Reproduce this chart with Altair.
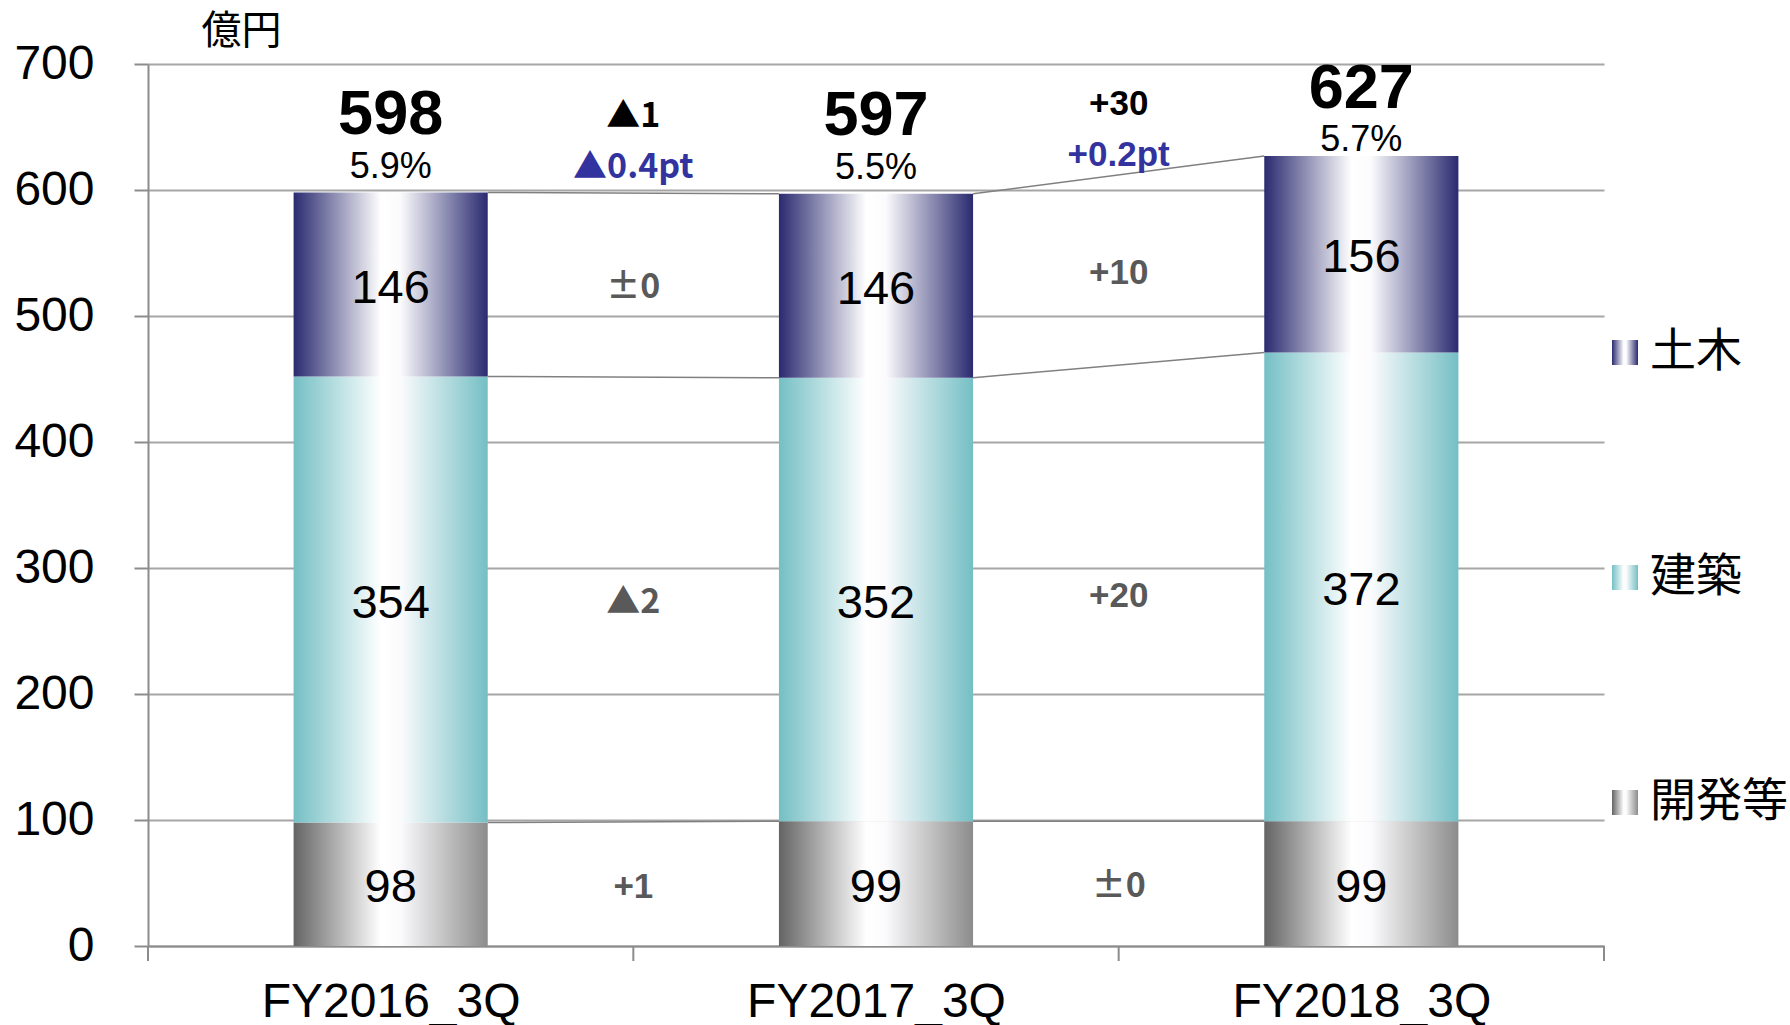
import altair as alt
import pandas as pd

# ---------------- data ----------------
categories = ["FY2016_3Q", "FY2017_3Q", "FY2018_3Q"]
series_names = ["開発等", "建築", "土木"]          # bottom -> top
dev_values = [98, 99, 99]
arch_values = [354, 352, 372]
civil_values = [146, 146, 156]
totals = [598, 597, 627]
margins = ["5.9%", "5.5%", "5.7%"]

dev_diff = ["+1", "±0"]
arch_diff = ["▲2", "+20"]
civil_diff = ["±0", "+10"]
total_diff = ["▲1", "+30"]
margin_diff = ["▲0.4pt", "+0.2pt"]

# ---------------- styles ----------------
NUM_FONT = "Liberation Sans"
JP_FONT = "Noto Sans CJK JP"
W, H = 1456, 882
HALF = 0.2  # half bar width in category units

def grad(dark, right=None):
    right = right or dark
    return alt.Gradient(
        gradient="linear", x1=0, x2=1, y1=0, y2=0,
        stops=[alt.GradientStop(color=dark, offset=0),
               alt.GradientStop(color="#ffffff", offset=0.45),
               alt.GradientStop(color="#fbfbfd", offset=0.55),
               alt.GradientStop(color=right, offset=1)])

fills = {
    "開発等": grad("#646464", "#8c8c8c"),
    "建築": grad("#74bfc4"),
    "土木": grad("#2a2a70"),
}

# ---------------- tables ----------------
series_values = {"開発等": dev_values, "建築": arch_values, "土木": civil_values}
series_diffs = {"開発等": dev_diff, "建築": arch_diff, "土木": civil_diff}

seg_rows = []
tops = {}
mids = {}
for i, cat in enumerate(categories):
    base = 0
    for s in series_names:
        v = series_values[s][i]
        seg_rows.append(dict(cat=cat, s=s, x0=i + 0.5 - HALF, x1=i + 0.5 + HALF,
                             xc=i + 0.5, y0=base, y1=base + v,
                             mid=base + v / 2, label=str(v)))
        tops.setdefault(s, []).append(base + v)
        mids.setdefault(s, []).append(base + v / 2)
        base += v
seg = pd.DataFrame(seg_rows)

conn_rows = []
for s in series_names:
    for i in range(len(categories) - 1):
        conn_rows.append(dict(x=i + 0.5 + HALF, x2=i + 1.5 - HALF,
                              y=tops[s][i], y2=tops[s][i + 1]))
conn = pd.DataFrame(conn_rows)

big_y = [min(t + 63, 682) for t in totals]
pct_y = [min(t + 22, 641) for t in totals]
tot = pd.DataFrame(dict(xc=[i + 0.5 for i in range(len(categories))],
                        total=[str(t) for t in totals], margin=margins,
                        by=big_y, py=pct_y))

diff_rows = []
for s in series_names:
    for i in range(len(categories) - 1):
        diff_rows.append(dict(x=i + 1, y=(mids[s][i] + mids[s][i + 1]) / 2,
                              text=series_diffs[s][i], col="#595959"))
for i in range(len(categories) - 1):
    diff_rows.append(dict(x=i + 1, y=(big_y[i] + big_y[i + 1]) / 2,
                          text=total_diff[i], col="#000000"))
    diff_rows.append(dict(x=i + 1, y=(pct_y[i] + pct_y[i + 1]) / 2,
                          text=margin_diff[i], col="#3333a0"))
diff = pd.DataFrame(diff_rows)

ticks = pd.DataFrame(dict(pos=list(range(len(categories) + 1))))

# ---------------- scales / axes ----------------
xs = alt.Scale(domain=[0, len(categories)], nice=False, zero=False)
ys = alt.Scale(domain=[0, 700], nice=False)

label_list = "[" + ",".join("'%s'" % c for c in categories) + "]"
x_axis = alt.Axis(values=[i + 0.5 for i in range(len(categories))],
                  labelExpr=label_list + "[floor(datum.value)]",
                  ticks=False, grid=False, domainColor="#8c8c8c", domainWidth=2,
                  labelFont=NUM_FONT, labelFontSize=48, labelColor="#000000",
                  labelPadding=32, labelLimit=0, title=None)
y_axis = alt.Axis(values=list(range(0, 701, 100)), grid=True,
                  gridColor="#a6a6a6", gridWidth=2,
                  domainColor="#8c8c8c", domainWidth=2,
                  tickColor="#8c8c8c", tickWidth=2, tickSize=14,
                  labelFont=NUM_FONT, labelFontSize=48, labelColor="#000000",
                  labelPadding=40, title="億円", titleAngle=0, titleAlign="left",
                  titleBaseline="middle", titleX=53, titleY=-33,
                  titleFont=JP_FONT, titleFontSize=40, titleFontWeight="normal",
                  titleColor="#000000")

def X(f):
    return alt.X(f, type="quantitative", scale=xs, axis=x_axis)

def Y(f):
    return alt.Y(f, type="quantitative", scale=ys, axis=y_axis)

layers = []

# connectors
layers.append(alt.Chart(conn).mark_rule(color="#808080", strokeWidth=1.5).encode(
    x=X("x"), x2="x2", y=Y("y"), y2="y2"))

# bars
for s in series_names:
    layers.append(alt.Chart(seg).transform_filter(alt.datum.s == s)
                  .mark_rect(color=fills[s]).encode(
                      x=X("x0"), x2="x1", y=Y("y0"), y2="y1"))

# x ticks at band boundaries
layers.append(alt.Chart(ticks).mark_rule(color="#8c8c8c", strokeWidth=2).encode(
    x=X("pos"), y=alt.value(H), y2=alt.value(H + 15)))

# segment labels
layers.append(alt.Chart(seg).mark_text(font=NUM_FONT, fontSize=47, color="#000000",
                                       baseline="middle", dy=4).encode(
    x=X("xc"), y=Y("mid"), text="label:N"))

# totals
layers.append(alt.Chart(tot).mark_text(font=NUM_FONT, fontSize=63, fontWeight="bold",
                                       color="#000000", baseline="middle", dy=2).encode(
    x=X("xc"), y=Y("by"), text="total:N"))
layers.append(alt.Chart(tot).mark_text(font=NUM_FONT, fontSize=36, color="#000000",
                                       baseline="middle", dy=2).encode(
    x=X("xc"), y=Y("py"), text="margin:N"))

# differences: labels with wide symbols use the Japanese font
sym_test = "test(/[▲±]/, datum.text)"
layers.append(alt.Chart(diff).transform_filter(sym_test)
              .mark_text(font=JP_FONT, fontSize=34, fontWeight="bold",
                         baseline="middle", dy=3).encode(
    x=X("x"), y=Y("y"), text="text:N", color=alt.Color("col:N", scale=None)))
layers.append(alt.Chart(diff).transform_filter("!(" + sym_test + ")")
              .mark_text(font=NUM_FONT, fontSize=35, fontWeight="bold",
                         baseline="middle", dy=3).encode(
    x=X("x"), y=Y("y"), text="text:N", color=alt.Color("col:N", scale=None)))

# legend (top to bottom)
legend_y = {"土木": 288, "建築": 513, "開発等": 738}
for s in ["土木", "建築", "開発等"]:
    d = pd.DataFrame(dict(s=[s]))
    cy = legend_y[s]
    layers.append(alt.Chart(d).mark_rect(color=fills[s]).encode(
        x=alt.value(W + 8), x2=alt.value(W + 34),
        y=alt.value(cy - 12), y2=alt.value(cy + 13)))
    layers.append(alt.Chart(d).mark_text(font=JP_FONT, fontSize=46, color="#000000",
                                         align="left", baseline="middle").encode(
        x=alt.value(W + 46), y=alt.value(cy), text="s:N"))

chart = alt.layer(*layers).properties(
    width=W, height=H,
    autosize=alt.AutoSizeParams(type="none"),
    padding={"left": 148, "top": 64, "right": 186, "bottom": 79},
    background="#ffffff",
).configure_view(stroke=None)

chart.save("out.html", embed_options={"renderer": "svg", "actions": False})
